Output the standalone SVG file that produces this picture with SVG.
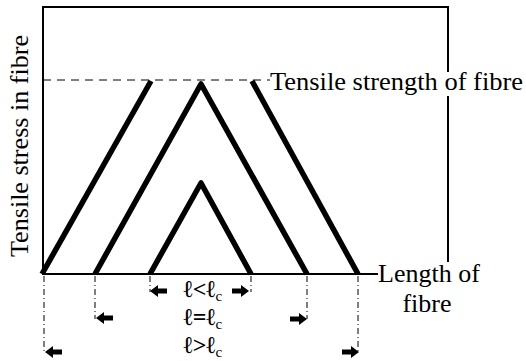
<svg xmlns="http://www.w3.org/2000/svg" width="526" height="361" viewBox="0 0 526 361">
<defs>
<path id="arrowL" d="M0,0 L8,-6 L8,-2.5 L17,-2.5 L17,2.5 L8,2.5 L8,6 Z" fill="#000"/>
<path id="arrowR" d="M0,0 L-8,-6 L-8,-2.5 L-17,-2.5 L-17,2.5 L-8,2.5 L-8,6 Z" fill="#000"/>
</defs>
<g id="axes" fill="none" stroke="#000">
<path stroke-width="2" d="M448,262 L448,96 M448,72 L448,7 L43,7 L43,274 L378,274"/>
<line stroke-width="1" stroke-dasharray="8 6" x1="43" y1="80" x2="270" y2="80"/>
</g>
<g id="connectors" fill="none" stroke="#000" stroke-width="1" stroke-dasharray="6 3 1 3">
<line x1="44" y1="276" x2="44" y2="352"/>
<line x1="95" y1="276" x2="95" y2="319"/>
<line x1="150" y1="276" x2="150" y2="292"/>
<line x1="251" y1="276" x2="251" y2="292"/>
<line x1="307" y1="276" x2="307" y2="319"/>
<line x1="358" y1="276" x2="358" y2="352"/>
</g>
<g id="arrows">
<use href="#arrowL" x="150" y="291"/>
<use href="#arrowR" x="249" y="291"/>
<use href="#arrowL" x="96" y="318"/>
<use href="#arrowR" x="307" y="319"/>
<use href="#arrowL" x="45" y="352"/>
<use href="#arrowR" x="359" y="352"/>
</g>
<g id="curve-long" fill="none" stroke="#000" stroke-width="5.5" stroke-linejoin="round">
<polyline points="42,274 151,81"/>
<polyline points="252,81 358,274"/>
</g>
<g id="curve-critical" fill="none" stroke="#000" stroke-width="5.5" stroke-linejoin="round">
<polyline points="95,274 201,84 307,274"/>
</g>
<g id="curve-short" fill="none" stroke="#000" stroke-width="5.5" stroke-linejoin="round">
<polyline points="150,274 201,183 251,274"/>
</g>
<text font-family="Liberation Serif" font-size="26" transform="translate(28,257) rotate(-90)" textLength="222" lengthAdjust="spacingAndGlyphs">Tensile stress in fibre</text>
<text font-family="Liberation Serif" font-size="26" x="270" y="90" textLength="253" lengthAdjust="spacingAndGlyphs">Tensile strength of fibre</text>
<text font-family="Liberation Serif" font-size="26" x="378" y="282">Length of</text>
<text font-family="Liberation Serif" font-size="26" x="427" y="312" text-anchor="middle">fibre</text>
<text font-family="Liberation Serif" font-size="24" font-weight="bold" x="203" y="297" text-anchor="middle">ℓ&lt;ℓ<tspan font-size="15" font-weight="normal" dy="4">c</tspan></text>
<text font-family="Liberation Serif" font-size="24" font-weight="bold" x="203" y="325" text-anchor="middle">ℓ=ℓ<tspan font-size="15" font-weight="normal" dy="4">c</tspan></text>
<text font-family="Liberation Serif" font-size="24" font-weight="bold" x="203" y="353" text-anchor="middle">ℓ&gt;ℓ<tspan font-size="15" font-weight="normal" dy="4">c</tspan></text>
</svg>
